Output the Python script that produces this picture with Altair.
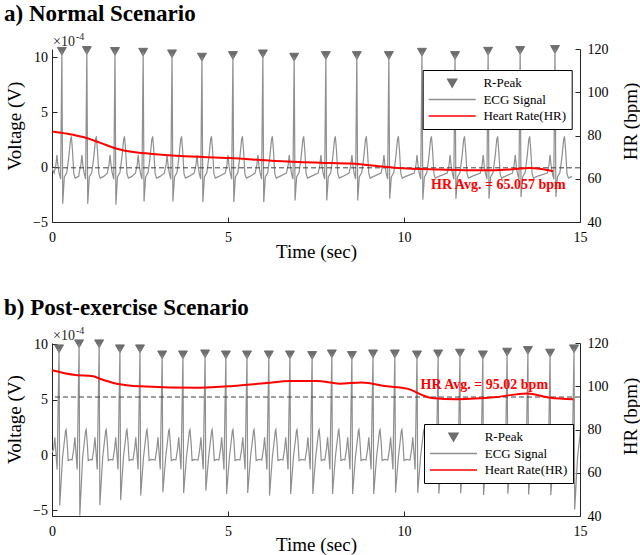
import altair as alt
import pandas as pd

SERIF = "Liberation Serif"
SERIES = ["R-Peak", "ECG Signal", "Heart Rate(HR)"]
PEAK_COLOR = "#6e6e6e"
ECG_COLOR = "#8f8f8f"
HR_COLOR = "#ff0000"
AXIS_COLOR = "#262626"
# downward triangle drawn in the [-1, 1] symbol box (scaled by the symbol size)
TRI_DOWN = "M-0.19,-0.16L0.19,-0.16L0,0.17Z"

# ---------------- Panel a: Normal scenario ----------------
a_title = "a) Normal Scenario"
a_r_times = [0.28, 0.99, 1.79, 2.59, 3.41, 4.26, 5.14, 5.99, 6.88, 7.78, 8.66,
             9.57, 10.51, 11.45, 12.39, 13.30, 14.29]
a_r_amps = [10.55, 10.63, 10.54, 10.47, 10.32, 10.02, 10.17, 10.32, 10.02, 10.17,
            10.17, 10.17, 10.47, 10.17, 10.56, 10.63, 10.72]
a_s_depths = [-3.34, -3.34, -3.43, -3.13, -3.13, -3.19, -3.19, -3.19, -3.04, -3.04,
              -3.04, -2.88, -2.98, -2.88, -2.88, -2.73, -2.73]
a_start = [0.0, -0.1]
a_hr_t = [0, 0.45, 0.89, 1.36, 1.84, 2.31, 2.78, 3.64, 5.06, 6.34, 7.61, 8.47,
          9.8, 11.0, 12.16, 13.0, 13.58, 14.24]
a_hr_v = [81.9, 80.8, 79.3, 76.7, 73.9, 72.4, 71.6, 70.5, 69.6, 68.2, 67.4, 67.0,
          65.0, 64.3, 63.9, 64.3, 65.0, 63.5]
a_hr_avg = 65.057
a_ann_pos = [10.77, 57.0]
a_ydom = [-5, 10.75]
a_legend_xy = [370.7, 21]
# beat shape (offset from R peak in s, voltage x1e-4)
a_pre_off = [-0.22, -0.17, -0.14, -0.11, -0.08, -0.035]
a_pre_val = [-0.55, 0.2, 1.1, 0.1, -0.5, -1.1]
a_s_off = 0.025
a_post_off = [0.07, 0.14, 0.20, 0.245, 0.27, 0.30, 0.34, 0.38, 0.48]
a_post_val = [-0.9, -0.5, 1.0, 2.5, 2.8, 1.6, -0.6, -1.0, -0.85]

# ---------------- Panel b: Post-exercise scenario ----------------
b_title = "b) Post-exercise Scenario"
b_r_times = [0.20, 0.77, 1.34, 1.93, 2.50, 3.13, 3.72, 4.35, 4.94, 5.54, 6.16, 6.76,
             7.39, 7.95, 8.52, 9.12, 9.74, 10.37, 10.97, 11.59, 12.24, 12.93, 13.52,
             14.15, 14.83]
b_r_amps = [9.59, 10.04, 10.04, 9.59, 9.59, 9.04, 9.04, 9.13, 9.04, 9.04, 9.04, 9.04,
            8.99, 9.13, 8.99, 9.13, 9.13, 9.04, 9.13, 9.20, 9.04, 9.29, 9.44, 9.20, 9.59]
b_s_depths = [-4.56, -5.46, -4.53, -4.08, -3.66, -3.36, -3.43, -3.21, -3.52, -3.43,
              -3.66, -3.52, -3.52, -3.52, -3.52, -3.52, -3.37, -3.40, -3.50, -3.45,
              -3.60, -3.50, -3.55, -3.60, -4.92]
b_start = [0.0, 0.2]
b_hr_t = [0, 0.61, 1.17, 1.36, 1.84, 2.5, 4.2, 5.15, 6.1, 6.76, 7.52, 8.18, 8.8,
          9.51, 10.08, 10.79, 11.5, 12.63, 13.49, 14.15, 14.81]
b_hr_v = [107.4, 105.3, 104.6, 103.5, 101.2, 100.0, 99.3, 100.1, 101.5, 102.4, 102.4,
          101.2, 101.7, 100.0, 98.9, 94.6, 94.0, 95.0, 96.7, 94.7, 94.0]
b_hr_avg = 95.02
b_ann_pos = [10.47, 100.7]
b_ydom = [-5.5, 10.1]
b_legend_xy = [372, 81]
b_pre_off = [-0.2, -0.15, -0.12, -0.09, -0.055]
b_pre_val = [-0.45, 0.6, 1.6, 0.3, -1.3]
b_s_off = 0.02
b_post_off = [0.1, 0.15, 0.185, 0.2, 0.23, 0.26, 0.33]
b_post_val = [-0.2, 1.2, 2.2, 2.3, 1.2, -0.5, -0.4]

x_ticks = [0, 5, 10, 15]
left_ticks = [-5, 0, 5, 10]
right_ticks = [40, 60, 80, 100, 120]
hr_dom = [40, 120]


def ecg_frame(start, r_times, r_amps, s_depths, pre_off, pre_val, s_off, post_off, post_val):
    t, v = [start[0]], [start[1]]
    for r, amp, s in zip(r_times, r_amps, s_depths):
        offs = pre_off + [0.0, s_off] + post_off
        vals = pre_val + [amp, s] + post_val
        for o, val in zip(offs, vals):
            if r + o > start[0]:
                t.append(round(r + o, 4))
                v.append(val)
    df = pd.DataFrame({"t": t, "v": v})
    df["series"] = "ECG Signal"
    return df.sort_values("t")


def make_legend(xy):
    return alt.Legend(
        title=None, orient="none", legendX=xy[0], legendY=xy[1],
        symbolType="stroke", symbolSize=2209, symbolStrokeWidth=1.5,
        clipHeight=16, rowPadding=0.5, padding=5, labelOffset=6.7,
        labelFont=SERIF, labelFontSize=13, labelColor="black", labelLimit=300,
        labelAlign="left", labelBaseline="middle",
        strokeColor="black", fillColor="white", symbolOpacity=1,
        symbolFillColor=PEAK_COLOR,
    )


def common_axis(**kw):
    base = dict(grid=False, domainColor=AXIS_COLOR, domainWidth=1, tickColor=AXIS_COLOR,
                tickWidth=1, tickSize={"expr": "-5"}, labelFont=SERIF, labelFontSize=14,
                labelColor="black", labelFlush=False, labelOverlap=False,
                titleFont=SERIF, titleFontSize=19, titleFontWeight="normal",
                titleColor="black", titleAlign="center", titleBaseline="middle")
    base.update(kw)
    return alt.Axis(**base)


def panel(title, start, r_times, r_amps, s_depths, pre_off, pre_val, s_off, post_off,
          post_val, hr_t, hr_v, hr_avg, ann_pos, ydom, legend_xy, left_title_y,
          right_title_y, x_title_y):
    ecg = ecg_frame(start, r_times, r_amps, s_depths, pre_off, pre_val, s_off,
                    post_off, post_val)
    peaks = pd.DataFrame({"t": r_times, "v": r_amps, "series": "R-Peak"})
    hr = pd.DataFrame({"t": hr_t, "v": hr_v, "series": "Heart Rate(HR)"})
    avg = pd.DataFrame({"v": [hr_avg]})
    ann = pd.DataFrame({"t": [ann_pos[0]], "v": [ann_pos[1]],
                        "label": [f"HR Avg. = {hr_avg} bpm"]})

    leg = make_legend(legend_xy)
    cscale = alt.Scale(domain=SERIES, range=[PEAK_COLOR, ECG_COLOR, HR_COLOR])
    color = alt.Color("series:N", scale=cscale, legend=leg)
    shape = alt.Shape("series:N", scale=alt.Scale(domain=SERIES,
                      range=[TRI_DOWN, "stroke", "stroke"]), legend=leg)

    x_axis = common_axis(values=x_ticks, title="Time (sec)", orient="bottom",
                         labelPadding=13, titleY=x_title_y)
    x = alt.X("t:Q", scale=alt.Scale(domain=[0, 15], nice=False, zero=False), axis=x_axis)
    l_axis = common_axis(values=left_ticks, title="Voltage (V)", orient="left",
                         labelPadding=9.5, titleX=-38, titleY=left_title_y, titleAngle=270)
    r_axis = common_axis(values=right_ticks, title="HR (bpm)", orient="right",
                         labelPadding=12, titleX=50, titleY=right_title_y, titleAngle=270)
    yl = alt.Y("v:Q", scale=alt.Scale(domain=ydom, nice=False, zero=False), axis=l_axis)
    yr = alt.Y("v:Q", scale=alt.Scale(domain=hr_dom, nice=False, zero=False), axis=r_axis)

    pk = alt.Chart(peaks).mark_point(filled=False, fill=PEAK_COLOR, size=2209,
                                     opacity=1, strokeWidth=1).encode(
        x=x, y=yl, color=color, shape=shape)
    ecg_line = alt.Chart(ecg).mark_line(strokeWidth=1.2, clip=True).encode(
        x=x, y=yl, color=color)
    ttl = alt.Chart(pd.DataFrame({"label": [title]})).mark_text(
        align="left", baseline="alphabetic", font=SERIF, fontSize=23,
        fontWeight="bold", color="black").encode(
        x=alt.value(-48), y=alt.value(-28), text="label:N")
    mult = alt.Chart(pd.DataFrame({"label": ["\u00d710"]})).mark_text(
        align="left", baseline="middle", font=SERIF, fontSize=14, color="#262626").encode(
        x=alt.value(1), y=alt.value(-7), text="label:N")
    expo = alt.Chart(pd.DataFrame({"label": ["-4"]})).mark_text(
        align="left", baseline="middle", font=SERIF, fontSize=10, color="#262626").encode(
        x=alt.value(24), y=alt.value(-12), text="label:N")
    left = alt.layer(pk, ecg_line, ttl, mult, expo)

    avg_rule = alt.Chart(avg).mark_rule(strokeDash=[5, 3], color="#404040",
                                        strokeWidth=1).encode(y=yr)
    hr_line = alt.Chart(hr).mark_line(strokeWidth=2, interpolate="monotone").encode(
        x=x, y=yr, color=color)
    ann_text = alt.Chart(ann).mark_text(align="left", baseline="middle", font=SERIF,
                                        fontSize=14, fontWeight="bold",
                                        color=HR_COLOR).encode(x=x, y=yr, text="label:N")
    right = alt.layer(avg_rule, hr_line, ann_text)
    return alt.layer(left, right).resolve_scale(y="independent").properties(
        width=528, height=173)


pa = panel(a_title, a_start, a_r_times, a_r_amps, a_s_depths, a_pre_off, a_pre_val,
           a_s_off, a_post_off, a_post_val, a_hr_t, a_hr_v, a_hr_avg, a_ann_pos,
           a_ydom, a_legend_xy, 76.5, 72, 29)
pb = panel(b_title, b_start, b_r_times, b_r_amps, b_s_depths, b_pre_off, b_pre_val,
           b_s_off, b_post_off, b_post_val, b_hr_t, b_hr_v, b_hr_avg, b_ann_pos,
           b_ydom, b_legend_xy, 76, 73, 28.5)

chart = alt.vconcat(pa, pb, spacing=121, bounds="flush").resolve_scale(
    color="independent", shape="independent", x="independent").properties(
    autosize=alt.AutoSizeParams(type="pad"),
    padding={"left": 4, "top": 3, "right": 0, "bottom": 3},
    background="white",
).configure_view(stroke=None)

chart.save("out.html", embed_options={"renderer": "svg", "actions": False})
